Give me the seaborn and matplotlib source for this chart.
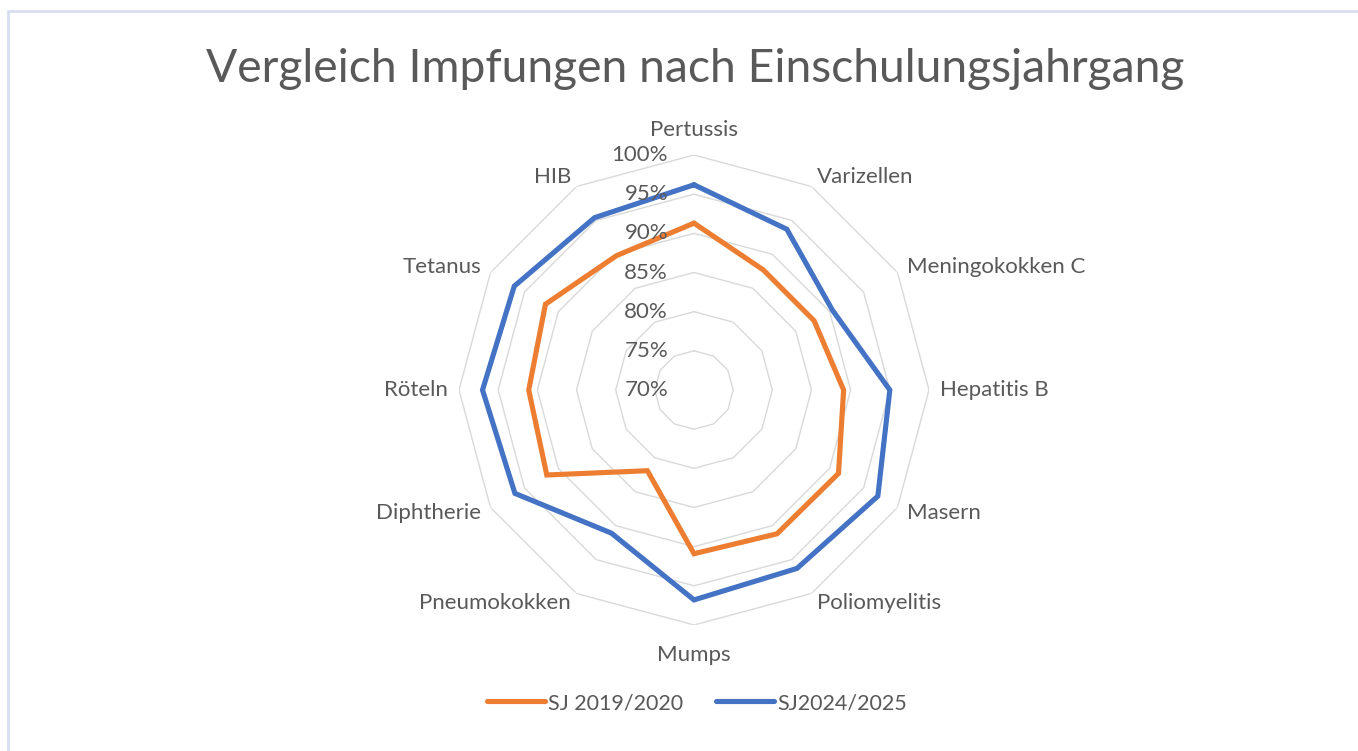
import numpy as np
import pandas as pd
import matplotlib
matplotlib.use("Agg")
import matplotlib.pyplot as plt
from matplotlib.patches import Rectangle
import seaborn as sns

# Daten (in Prozent)
kategorien = ["Pertussis", "Varizellen", "Meningokokken C", "Hepatitis B", "Masern",
              "Poliomyelitis", "Mumps", "Pneumokokken", "Diphtherie", "Röteln",
              "Tetanus", "HIB"]
sj_2019 = [91.3, 87.7, 87.7, 89.1, 91.3, 91.2, 90.9, 81.9, 91.7, 91.1, 91.9, 89.8]
sj_2024 = [96.2, 93.7, 90.4, 95.0, 97.1, 96.3, 96.8, 91.1, 96.4, 97.0, 96.5, 95.4]
serien = ["SJ 2019/2020", "SJ2024/2025"]
r_ticks = [70, 75, 80, 85, 90, 95, 100]

df = pd.DataFrame({"Kategorie": kategorien, serien[0]: sj_2019, serien[1]: sj_2024})

sns.set_theme(style="white")
plt.rcParams["font.family"] = ["Lato", "DejaVu Sans"]
grau = "#595959"
farben = {serien[0]: "#ED7D31", serien[1]: "#4472C4"}

fig = plt.figure(figsize=(13.58, 7.51), dpi=100)
fig.patches.append(Rectangle((8 / 1358, -0.1), 1.2, (751 - 11) / 751 + 0.1,
                             transform=fig.transFigure, fill=False,
                             edgecolor="#D9DFF2", linewidth=2))

ax = fig.add_axes([0.338, 0.1678, 0.3461, 0.6258], projection="polar")
ax.set_theta_zero_location("N")
ax.set_theta_direction(-1)

n = len(kategorien)
winkel = np.linspace(0, 2 * np.pi, n, endpoint=False)
winkel_zu = np.append(winkel, winkel[0])

# Polygon-Gitternetz
for r in r_ticks[1:]:
    ax.plot(winkel_zu, [r] * (n + 1), color="#D9D9D9", lw=1.0, zorder=1)

for s in serien:
    werte = df[s].tolist()
    ax.plot(winkel_zu, werte + werte[:1], color=farben[s], lw=3.7,
            solid_joinstyle="miter", label=s, zorder=3)

ax.set_ylim(70, 100)
ax.set_xticks([])
ax.set_yticks([])
ax.grid(False)
ax.spines["polar"].set_visible(False)
ax.set_facecolor("none")

# Achsenbeschriftung (Prozent)
for r in r_ticks:
    ax.annotate(f"{r}%", xy=(0, r), xytext=(-26, 0), textcoords="offset pixels",
                ha="right", va="center", fontsize=16, color=grau, zorder=4)

# Kategorienbeschriftung
for w, k in zip(winkel, kategorien):
    dx, dy = np.sin(w), np.cos(w)
    if abs(dx) < 0.01:
        ha = "center"
        va = "bottom" if dy > 0 else "top"
        off = 15 if dy > 0 else 20
    else:
        ha = "left" if dx > 0 else "right"
        va = "center"
        off = 11
    ax.annotate(k, xy=(w, 100), xytext=(off * dx, off * dy), textcoords="offset pixels",
                ha=ha, va=va, fontsize=16, color=grau)

fig.text(695 / 1358, 1 - 69 / 751, "Vergleich Impfungen nach Einschulungsjahrgang",
         ha="center", va="center", fontsize=33.3, color=grau)

leg = fig.legend(loc="center", bbox_to_anchor=(697 / 1358, 1 - 703 / 751), ncol=2,
                 frameon=False, fontsize=15.5, handlelength=2.7, columnspacing=1.5,
                 handletextpad=0.15)
for t in leg.get_texts():
    t.set_color(grau)
for l in leg.get_lines():
    l.set_solid_capstyle("round")

fig.savefig("out.png", dpi=100, facecolor="white")
